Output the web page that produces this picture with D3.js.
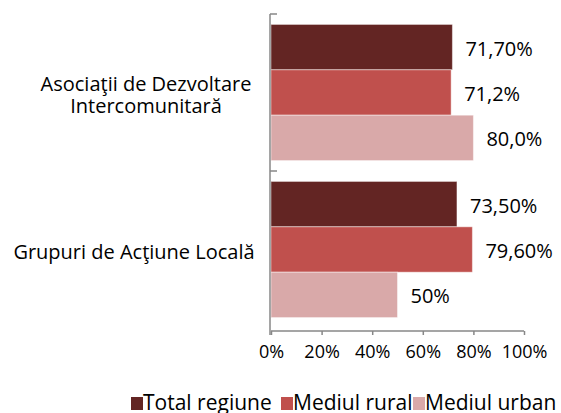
<!DOCTYPE html>
<html>
<head>
<meta charset="utf-8">
<script src="https://cdn.jsdelivr.net/npm/d3@7"></script>
<style>
  body { margin: 0; background: #fff; }
  text { font-family: "Open Sans", sans-serif; fill: #000; }
</style>
</head>
<body>
<svg id="Diagram" width="561" height="413"></svg>
<script>
// categories (top to bottom) and series
var categories = ["Asociaţii de Dezvoltare Intercomunitară", "Grupuri de Acţiune Locală"];
var categoryLines = [["Asociaţii de Dezvoltare", "Intercomunitară"], ["Grupuri de Acţiune Locală"]];
var series = ["Total regiune", "Mediul rural", "Mediul urban"];
var totalRegiune = [71.7, 73.5];
var mediulRural = [71.2, 79.6];
var mediulUrban = [80.0, 50.0];
var labelsTotal = ["71,70%", "73,50%"];
var labelsRural = ["71,2%", "79,60%"];
var labelsUrban = ["80,0%", "50%"];
var xTicks = [0, 20, 40, 60, 80, 100];

var colors = ["#632523", "#C0504D", "#D9A9A9"];
var axisColor = "#878787";

var values = [totalRegiune, mediulRural, mediulUrban];
var labels = [labelsTotal, labelsRural, labelsUrban];

var data = [];
categories.forEach(function(c, i) {
    series.forEach(function(s, j) {
        data.push({cat: c, ser: s, value: values[j][i], label: labels[j][i], idx: j});
    });
});

var svg = d3.select("#Diagram");

// plot area
var plotLeft = 271, plotRight = 524, plotTop = 14, plotBottom = 328;

var x = d3.scaleLinear()
    .domain([0, 100])
    .range([plotLeft, plotRight]);

var y0 = d3.scaleBand()
    .domain(categories)
    .range([plotTop, plotBottom]);

var y1 = d3.scaleBand()
    .domain(series)
    .range([0, y0.bandwidth()])
    .paddingOuter(0.23);

// bars
svg.append("g")
    .selectAll("rect")
    .data(data)
    .enter()
    .append("rect")
    .attr("x", x(0))
    .attr("y", function(d) { return y0(d.cat) + y1(d.ser); })
    .attr("width", function(d) { return x(d.value) - x(0); })
    .attr("height", y1.bandwidth())
    .style("fill", function(d) { return colors[d.idx]; })
    .style("stroke", "#fff")
    .style("stroke-opacity", 0.45)
    .style("stroke-width", 1);

// value labels
svg.append("g")
    .selectAll("text")
    .data(data)
    .enter()
    .append("text")
    .attr("x", function(d) { return x(d.value) + 13; })
    .attr("y", function(d) { return y0(d.cat) + y1(d.ser) + y1.bandwidth() / 2; })
    .attr("dy", "0.42em")
    .style("font-size", "20px")
    .text(function(d) { return d.label; });

// x axis
var xAxis = svg.append("g")
    .attr("transform", "translate(0," + (plotBottom + 3) + ")")
    .call(d3.axisBottom(x)
        .tickValues(xTicks)
        .tickSize(4)
        .tickPadding(10)
        .tickFormat(function(d) { return d + "%"; }));
xAxis.select(".domain").attr("stroke", axisColor).attr("stroke-width", 1.5)
    .attr("d", "M" + x(0) + ",0H" + x(100));
xAxis.selectAll(".tick line").attr("stroke", axisColor).attr("stroke-width", 1.5);
xAxis.selectAll(".tick text")
    .style("font-family", "'Open Sans', sans-serif")
    .style("font-size", "18px")
    .attr("fill", "#000");

// category axis
var yAxis = svg.append("g");
yAxis.append("line")
    .attr("x1", plotLeft - 1).attr("x2", plotLeft - 1)
    .attr("y1", plotTop).attr("y2", plotBottom + 7)
    .attr("stroke", axisColor).attr("stroke-width", 1.5);
yAxis.selectAll("line.tick")
    .data(categories)
    .enter()
    .append("line")
    .attr("class", "tick")
    .attr("x1", plotLeft - 1).attr("x2", plotLeft + 6)
    .attr("y1", function(d) { return y0(d); })
    .attr("y2", function(d) { return y0(d); })
    .attr("stroke", axisColor).attr("stroke-width", 1.5);

// category labels
var fs = 20;
var catG = svg.append("g")
    .selectAll("text")
    .data(categories)
    .enter()
    .append("text")
    .attr("text-anchor", "middle")
    .style("font-size", fs + "px")
    .attr("x", function(d, i) { return i === 0 ? 146 : 134; })
    .attr("y", function(d) { return y0(d) + y0.bandwidth() / 2; });
catG.each(function(d, i) {
    var lines = categoryLines[i];
    var t = d3.select(this);
    var lh = 22;
    lines.forEach(function(l, k) {
        t.append("tspan")
            .attr("x", t.attr("x"))
            .attr("dy", k === 0 ? ((0.45 * fs) - (lines.length - 1) * lh / 2) + "px" : lh + "px")
            .text(l);
    });
});

// legend
var legendX = [131, 281, 413];
var legend = svg.append("g")
    .selectAll("g")
    .data(series)
    .enter()
    .append("g")
    .attr("transform", function(d, i) { return "translate(" + legendX[i] + ",397)"; });
legend.append("rect")
    .attr("width", 12).attr("height", 13)
    .style("fill", function(d, i) { return colors[i]; });
legend.append("text")
    .attr("x", 12).attr("y", 13)
    .style("font-size", "21px")
    .text(function(d) { return d; });
</script>
</body>
</html>
